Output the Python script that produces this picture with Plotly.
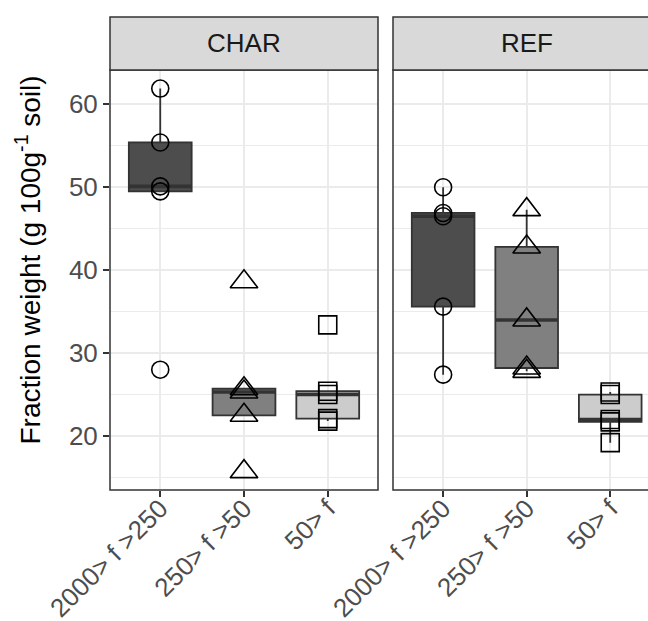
import numpy as np
import plotly.graph_objects as go

# ---------------- data ----------------
categories = ["2000> f >250", "250> f >50", "50> f"]
facets = ["CHAR", "REF"]

char_2000 = [61.9, 55.4, 50.1, 49.5, 28.0]
char_250 = [38.6, 25.7, 25.3, 22.5, 15.7]
char_50 = [33.4, 25.4, 25.0, 22.1, 21.8]

ref_2000 = [50.0, 46.9, 46.5, 35.6, 27.4]
ref_250 = [47.3, 42.8, 34.0, 28.2, 27.8]
ref_50 = [25.3, 25.0, 22.0, 21.7, 19.2]

y_ticks = [20, 30, 40, 50, 60]
y_minor = [15, 25, 35, 45, 55]

fills = ["#4D4D4D", "#808080", "#CCCCCC"]
symbols = ["circle-open", "triangle-up-open", "square-open"]
sizes = [17, 24, 18]

W, H = 648, 621
FONT = "Liberation Sans, Arial, Helvetica, sans-serif"
DARK = "#333333"
BOX_W = 0.75

panel_top, panel_bot = 70, 490
strip_top = 17
char_l, char_r = 110, 378
ref_l = 393


def px_x(p):
    return p / W


def px_y(p):
    return 1 - p / H


def box_stats(vals):
    """ggplot2-style box statistics (R quantile type 7, 1.5*IQR whiskers)."""
    a = np.sort(np.asarray(vals, dtype=float))
    q1, med, q3 = np.percentile(a, [25, 50, 75])
    iqr = q3 - q1
    lo = a[a >= q1 - 1.5 * iqr].min()
    hi = a[a <= q3 + 1.5 * iqr].max()
    return float(q1), float(med), float(q3), float(lo), float(hi)


data = {"CHAR": [char_2000, char_250, char_50],
        "REF": [ref_2000, ref_250, ref_50]}

fig = go.Figure()

for fi, facet in enumerate(facets):
    xa = "x" if fi == 0 else "x2"
    ya = "y" if fi == 0 else "y2"
    for ci, vals in enumerate(data[facet]):
        q1, med, q3, lo, hi = box_stats(vals)
        fig.add_trace(go.Box(
            x=[ci], q1=[q1], median=[med], q3=[q3],
            lowerfence=[lo], upperfence=[hi], width=BOX_W,
            fillcolor=fills[ci], line=dict(color=DARK, width=1.8),
            whiskerwidth=0, boxpoints=False, xaxis=xa, yaxis=ya,
            showlegend=False, hoverinfo="skip"))
        fig.add_trace(go.Scatter(
            x=[ci - BOX_W / 2, ci + BOX_W / 2], y=[med, med], mode="lines",
            line=dict(color=DARK, width=3.6), xaxis=xa, yaxis=ya,
            showlegend=False, hoverinfo="skip"))
    for ci, vals in enumerate(data[facet]):
        fig.add_trace(go.Scatter(
            x=[ci] * len(vals), y=vals, mode="markers",
            marker=dict(symbol=symbols[ci], size=sizes[ci], color="black",
                        line=dict(color="black", width=1.6)),
            xaxis=xa, yaxis=ya, showlegend=False, hoverinfo="skip"))

yrange = [13.49, 64.14]
common_x = dict(tickvals=[0, 1, 2], ticktext=categories, tickangle=-45,
                ticks="outside", ticklen=6, tickwidth=1.5, tickcolor=DARK,
                ticklabelstandoff=-14,
                showgrid=True, gridcolor="#EBEBEB", gridwidth=2,
                zeroline=False, showline=False, automargin=False,
                tickfont=dict(family=FONT, size=26, color="#4D4D4D"))
common_y = dict(range=yrange, tickvals=y_ticks, showgrid=True,
                gridcolor="#EBEBEB", gridwidth=2, zeroline=False,
                showline=False, automargin=False,
                minor=dict(tickvals=y_minor, showgrid=True,
                           gridcolor="#EBEBEB", gridwidth=1, ticks=""),
                domain=[px_y(panel_bot), px_y(panel_top)])

fig.update_layout(
    width=W, height=H, margin=dict(l=0, r=0, t=0, b=0),
    paper_bgcolor="white", plot_bgcolor="white", boxmode="overlay",
    xaxis=dict(domain=[px_x(char_l), px_x(char_r)], range=[-0.6, 2.6],
               anchor="y", **common_x),
    xaxis2=dict(domain=[px_x(ref_l), 1], range=[-0.6, 2.452],
                anchor="y2", **common_x),
    yaxis=dict(anchor="x", ticks="outside", ticklen=6, tickwidth=1.5,
               tickcolor=DARK, ticklabelstandoff=0,
               tickfont=dict(family=FONT, size=26, color="#4D4D4D"),
               **common_y),
    yaxis2=dict(anchor="x2", matches="y", showticklabels=False, ticks="",
                **common_y),
)

shapes = []
annotations = []
panels = [(char_l, char_r, "CHAR"), (ref_l, ref_l + (char_r - char_l), "REF")]
for l, r, name in panels:
    shapes.append(dict(type="rect", xref="paper", yref="paper",
                       x0=px_x(l), x1=px_x(r), y0=px_y(panel_bot), y1=px_y(panel_top),
                       line=dict(color=DARK, width=1.5), fillcolor="rgba(0,0,0,0)",
                       layer="above"))
    shapes.append(dict(type="rect", xref="paper", yref="paper",
                       x0=px_x(l), x1=px_x(r), y0=px_y(panel_top), y1=px_y(strip_top),
                       line=dict(color=DARK, width=1.5), fillcolor="#D9D9D9",
                       layer="above"))
    annotations.append(dict(text=name, xref="paper", yref="paper",
                            x=px_x((l + r) / 2), y=px_y((panel_top + strip_top) / 2),
                            xanchor="center", yanchor="middle", showarrow=False,
                            font=dict(family=FONT, size=26, color="#1A1A1A")))

annotations.append(dict(text="Fraction weight (g 100g<sup>-1</sup> soil)",
                        xref="paper", yref="paper", x=px_x(28), y=px_y(447),
                        xanchor="center", yanchor="bottom", textangle=-90,
                        showarrow=False,
                        font=dict(family=FONT, size=28, color="black")))

fig.update_layout(shapes=shapes, annotations=annotations)

fig.write_html("out.html")
